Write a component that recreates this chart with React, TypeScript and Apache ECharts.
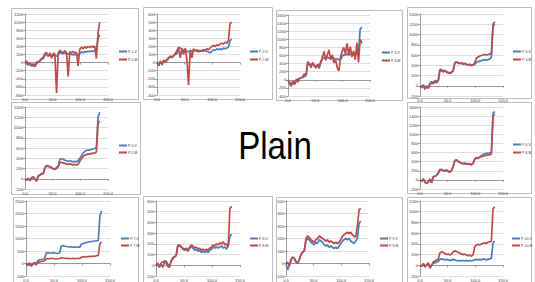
import React, { useEffect, useRef } from 'react';
import * as echarts from 'echarts';

const xs = [0,3,6,9,12,15,18,21,24,27,30,33,36,39,42,45,48,51,54,57,60,63,66,69,72,75,78,81,84,87,90,93,96,99,102,105,108,111,114,117,120,123,126,129,132,135];

const p1V = [0,-30,-60,-40,-90,-70,-100,-20,10,40,80,100,180,200,170,190,160,180,170,160,200,250,230,220,240,210,220,200,210,190,200,190,180,230,260,250,270,260,280,270,290,270,300,320,600,690];
const p1M = [0,40,-50,-10,-60,-30,-80,20,0,60,100,130,230,250,150,240,110,230,210,-750,230,300,270,240,290,250,-340,270,240,280,230,260,-80,330,380,340,390,360,400,370,410,380,410,100,720,1000];
const p2V = [0,-30,10,-20,20,0,30,50,70,60,80,100,110,190,180,170,150,160,140,130,150,140,160,150,140,150,140,150,140,150,140,130,120,140,160,150,170,160,170,160,180,170,180,190,270,290];
const p2M = [0,-40,20,-30,30,10,40,60,80,70,90,110,150,180,60,170,100,180,40,-280,150,60,170,140,160,130,150,140,160,150,170,160,180,200,210,200,220,210,230,240,230,250,240,270,480,500];
const p3V = [0,-60,-100,-40,-80,0,20,30,50,60,80,100,380,390,370,380,360,340,350,380,420,520,540,530,550,540,520,540,530,520,510,500,490,580,620,610,640,620,630,640,620,650,640,700,1250,1300];
const p3M = [0,-100,-160,-50,-120,0,-60,30,50,80,150,100,450,400,300,430,340,290,380,280,450,560,700,480,620,740,500,620,420,500,300,220,560,700,800,640,900,600,820,560,720,500,920,430,1000,900];
const p4V = [0,-20,20,-50,0,-30,50,80,60,100,90,110,320,310,290,300,280,260,250,270,300,450,460,440,430,440,420,430,410,400,410,390,400,420,460,470,480,490,500,510,500,510,520,560,1150,1200];
const p4M = [0,-40,0,-70,-20,-50,30,50,40,70,60,90,300,290,270,290,260,250,240,260,290,450,470,450,440,450,430,440,420,410,420,400,410,450,540,560,580,590,600,610,600,610,620,640,1200,1250];
const p5V = [0,-20,10,-30,20,40,0,-40,60,80,100,110,220,260,250,240,220,200,190,220,250,380,390,380,360,350,340,350,340,330,340,330,350,400,450,500,530,550,560,560,570,580,590,620,1200,1300];
const p5M = [0,-30,0,-40,10,30,-10,-50,50,70,90,100,210,250,240,230,210,190,180,200,230,320,320,310,300,290,280,290,280,270,280,270,280,340,390,430,460,470,480,480,490,500,500,520,1080,1130];
const p6V = [0,-30,20,-50,-80,-40,20,-60,70,80,100,150,230,230,210,200,220,190,180,210,300,430,440,410,390,370,360,370,350,360,350,340,370,460,490,480,510,530,560,570,580,590,590,600,1450,1500];
const p6M = [0,-30,20,-50,-80,-40,20,-60,70,80,100,150,220,220,200,190,210,180,170,200,300,420,430,400,380,360,350,360,340,350,340,330,360,450,480,470,500,510,520,530,540,550,550,570,1400,1440];
const p7V = [0,-50,30,-80,-20,50,-30,100,150,160,170,180,420,430,420,410,430,420,400,410,420,700,720,690,680,670,660,670,650,660,650,660,650,780,800,820,840,860,870,880,890,900,910,920,1900,2100];
const p7M = [0,-80,-20,-100,-50,20,-60,30,60,80,90,100,180,200,190,210,200,190,180,190,200,230,220,210,200,210,190,200,210,190,200,210,200,250,270,260,280,270,290,280,300,290,310,320,800,870];
const p8V = [0,10,-20,20,30,40,20,-10,-20,40,70,80,90,190,180,170,150,140,150,130,160,170,160,140,150,130,140,120,130,120,130,120,140,150,170,160,170,160,170,180,160,170,150,190,270,290];
const p8M = [0,20,-10,10,-20,30,40,10,-10,40,60,80,90,180,190,170,160,150,160,140,170,190,180,160,170,150,160,140,150,140,150,140,160,170,190,180,200,190,210,200,220,190,200,170,530,550];
const p9V = [0,-50,-20,30,50,40,10,0,30,70,90,100,180,200,190,170,160,150,170,160,190,180,170,150,140,150,130,140,130,120,130,120,140,160,180,190,200,190,200,180,170,160,180,200,320,340];
const p9M = [0,10,-20,30,50,40,20,0,30,70,90,100,200,220,210,190,180,170,190,200,220,210,200,190,180,190,170,180,170,160,170,160,170,190,220,230,240,250,240,250,230,220,210,300,430,440];
const p10V = [0,-20,30,-30,10,40,-50,0,40,50,60,70,110,120,110,100,110,100,90,100,110,100,90,80,90,80,90,80,90,80,90,80,90,100,110,100,110,100,120,110,100,110,120,130,420,450];
const p10M = [0,-20,30,-30,10,40,-50,0,60,80,100,110,230,250,240,220,200,210,190,210,250,270,260,240,230,210,200,210,190,180,190,170,200,350,380,390,380,400,410,420,410,430,440,450,1050,1090];

const xTicks = { min: 0, max: 150, interval: 50 };
const title = 'Plain';

const panels = [
  { id: '1', v: p1V, m: p1M, min: -800, max: 1200, interval: 200, g: [25, 14, 83, 81], lg: [119, 49, 3], box: [11, 8, 127, 91] },
  { id: '2', v: p2V, m: p2M, min: -400, max: 600, interval: 100, g: [157, 14, 83, 81], lg: [250, 49, 3], box: [143, 7, 129, 92] },
  { id: '3', v: p3V, m: p3M, min: -400, max: 1600, interval: 200, g: [288, 15, 82, 81], lg: [382, 50, 3], box: [276, 10, 126, 90] },
  { id: '4', v: p4V, m: p4M, min: -200, max: 1400, interval: 200, g: [420, 14, 83, 82], lg: [513, 49, 3], box: [407, 7, 124, 91] },
  { id: '5', v: p5V, m: p5M, min: -200, max: 1400, interval: 200, g: [25, 107, 83, 82], lg: [119, 143, 2], box: [11, 102, 129, 92] },
  { id: '6', v: p6V, m: p6M, min: -200, max: 1600, interval: 200, g: [420, 107, 83, 82], lg: [513, 142, 3], box: [407, 102, 124, 91] },
  { id: '7', v: p7V, m: p7M, min: -500, max: 2500, interval: 500, g: [26, 201, 84, 81], lg: [121, 236, 2], box: [13, 197, 125, 90] },
  { id: '8', v: p8V, m: p8M, min: -100, max: 600, interval: 100, g: [156, 201, 84, 81], lg: [250, 236, 2], box: [143, 196, 129, 90] },
  { id: '9', v: p9V, m: p9M, min: -100, max: 500, interval: 100, g: [286, 201, 83, 82], lg: [380, 236, 2], box: [276, 197, 126, 90] },
  { id: '10', v: p10V, m: p10M, min: -200, max: 1200, interval: 200, g: [420, 201, 83, 81], lg: [512, 236, 2], box: [407, 197, 124, 90] },
];

const FONT = 'Liberation Sans';
const BLUE = '#4a7ebb';
const RED = '#be4b48';

export default function App() {
  const ref = useRef<HTMLDivElement>(null);
  useEffect(() => {
    if (!ref.current) return;
    const chart = echarts.init(ref.current, undefined, { renderer: 'svg' });
    const axisLineStyle = { color: '#868686', width: 0.8 };
    const labelStyle = { fontSize: 4, color: '#404040', fontFamily: FONT, margin: 2 };
    const option: any = {
      animation: false,
      backgroundColor: '#ffffff',
      textStyle: { fontFamily: FONT },
      grid: panels.map((p) => ({ left: p.g[0], top: p.g[1], width: p.g[2], height: p.g[3], containLabel: false })),
      xAxis: panels.map((p, i) => ({
        type: 'value', gridIndex: i, min: xTicks.min, max: xTicks.max, interval: xTicks.interval,
        axisLine: { show: true, onZero: true, lineStyle: axisLineStyle },
        axisTick: { show: true, length: 2, lineStyle: axisLineStyle },
        axisLabel: { ...labelStyle, formatter: (v: number) => v.toFixed(1) },
        splitLine: { show: false },
      })),
      yAxis: panels.map((p, i) => ({
        type: 'value', gridIndex: i, min: p.min, max: p.max, interval: p.interval,
        axisLine: { show: true, lineStyle: axisLineStyle },
        axisTick: { show: true, length: 2, lineStyle: axisLineStyle },
        axisLabel: { ...labelStyle, formatter: (v: number) => String(v) },
        splitLine: { show: true, lineStyle: { color: '#c8c8c8', width: 0.6 } },
      })),
      legend: panels.map((p) => ({
        data: [`P-${p.id}-V`, `P-${p.id}-M`],
        orient: 'vertical', left: p.lg[0], top: p.lg[1], itemGap: p.lg[2],
        itemWidth: 8, itemHeight: 2, icon: 'rect', padding: 0, selectedMode: false,
        textStyle: { fontSize: 3.5, lineHeight: 5, color: '#404040', fontFamily: FONT, padding: [0, 0, 0, -4] },
      })),
      series: panels.flatMap((p, i) => [
        {
          name: `P-${p.id}-V`, type: 'line', xAxisIndex: i, yAxisIndex: i, showSymbol: false,
          data: xs.map((x, k) => [x, p.v[k]]), lineStyle: { color: BLUE, width: 1.7 }, itemStyle: { color: BLUE },
        },
        {
          name: `P-${p.id}-M`, type: 'line', xAxisIndex: i, yAxisIndex: i, showSymbol: false,
          data: xs.map((x, k) => [x, p.m[k]]), lineStyle: { color: RED, width: 1.7 }, itemStyle: { color: RED },
        },
      ]),
      graphic: [
        ...panels.map((p) => ({
          type: 'rect', silent: true,
          shape: { x: p.box[0] + 0.5, y: p.box[1] + 0.5, width: p.box[2], height: p.box[3] },
          style: { fill: 'none', stroke: '#bdbdbd', lineWidth: 1 },
        })),
        {
          type: 'text', x: 275, y: 146, scaleX: 0.85, silent: true,
          style: {
            text: title, fontSize: 39, fontFamily: FONT, fill: '#000000',
            align: 'center', verticalAlign: 'middle', textAlign: 'center', textVerticalAlign: 'middle',
          },
        },
      ],
    };
    chart.setOption(option);
    return () => chart.dispose();
  }, []);
  return <div ref={ref} style={{ position: 'fixed', left: 0, top: 0, width: 535, height: 282, background: '#fff' }} />;
}
